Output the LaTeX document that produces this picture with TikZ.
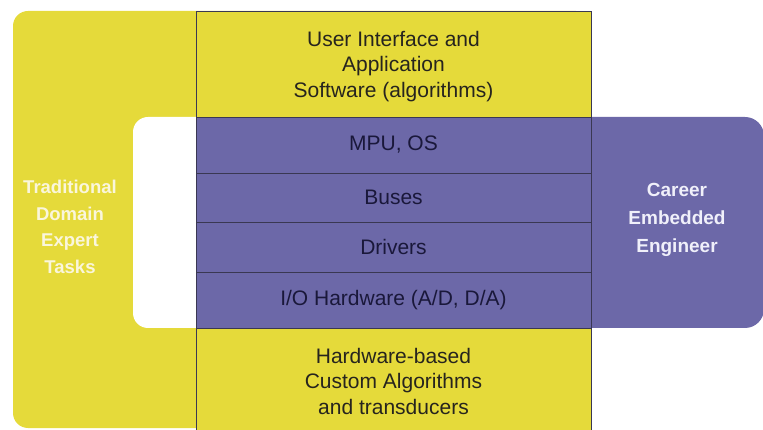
\documentclass[tikz,border=0pt]{standalone}
\usepackage{fontspec}
\setmainfont{Liberation Sans}
\definecolor{ylw}{RGB}{229,218,58}
\definecolor{prp}{RGB}{108,104,168}
\definecolor{edgec}{RGB}{58,56,82}
\definecolor{darktxt}{RGB}{38,36,30}
\definecolor{navytxt}{RGB}{26,24,58}
\definecolor{creamtxt}{RGB}{250,246,220}
\definecolor{palettxt}{RGB}{240,240,250}
\begin{document}
\begin{tikzpicture}[x=1pt,y=-1pt,
  layer/.style={draw=edgec, line width=0.9pt, minimum width=395pt, inner sep=0pt,
    align=center, font=\fontsize{21}{25.5}\selectfont},
  ylayer/.style={layer, fill=ylw, text=darktxt},
  player/.style={layer, fill=prp, text=navytxt},
  sidetxt/.style={align=center, font=\bfseries\fontsize{18.5}{26.5}\selectfont}]
\useasboundingbox (0,0) rectangle (763,430);
% background shapes
\fill[ylw, rounded corners=15pt] (13,11) rectangle (591,428);
\fill[white, rounded corners=15pt] (133,117) rectangle (230,328);
\fill[prp, rounded corners=19pt] (196,117) rectangle (764,328);
% column of layers
\node[ylayer, minimum height=106pt] (app) at (393.5,64) {\raisebox{-8pt}[0pt][0pt]{\begin{tabular}{@{}c@{}}User Interface and\\Application\\Software (algorithms)\end{tabular}}};
\node[player, minimum height=56pt] (mpu) at (393.5,145) {MPU, OS};
\node[player, minimum height=49pt] (bus) at (393.5,197.5) {Buses};
\node[player, minimum height=50pt] (drv) at (393.5,247) {Drivers};
\node[player, minimum height=56pt] (io) at (393.5,300) {I/O Hardware (A/D, D/A)};
\node[ylayer, minimum height=106pt] (hw) at (393.5,381) {Hardware-based\\Custom Algorithms\\and transducers};
% side labels
\node[sidetxt, text=creamtxt] (trad) at (70,227) {Traditional\\Domain\\Expert\\Tasks};
\node[sidetxt, text=palettxt, font=\bfseries\fontsize{19}{28}\selectfont] (career) at (677,220) {Career\\Embedded\\Engineer};
\end{tikzpicture}
\end{document}
